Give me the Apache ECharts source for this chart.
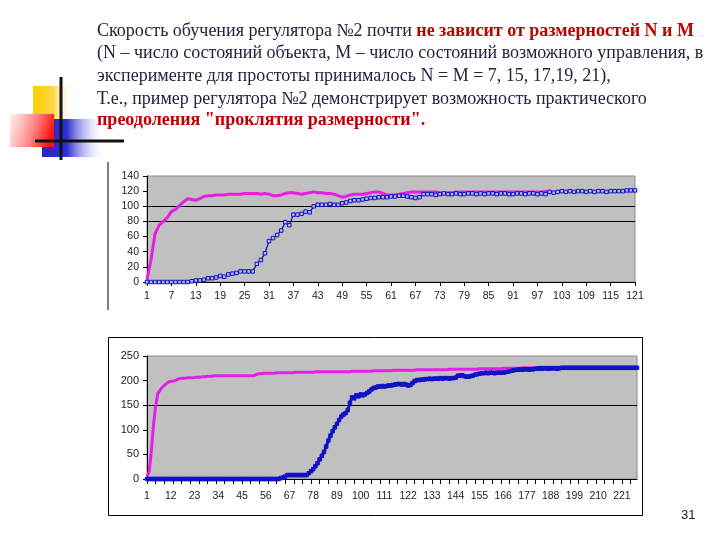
<!DOCTYPE html>
<html>
<head>
<meta charset="utf-8">
<script src="https://cdn.jsdelivr.net/npm/echarts@6/dist/echarts.min.js"></script>
<style>html,body{margin:0;padding:0;background:#fff;}#c{width:720px;height:540px;}</style>
</head>
<body>
<div id="c"></div>
<script>
// ---- data chart 1 (121 steps) ----
var blue1 = [0,0,0,0,0,0,0,0,0,0,0,1,
  2,2,3,5,5,6,8,7,10,11,12,14,14,14,14,
  24,29,38,54,58,62,68,79,75,89,89,90,93,92,100,
  102,102,102,103,102,102,104,105,107,108,108,109,110,111,111,
  112,112,112,113,113,114,114,113,112,111,112,116,116,116,115,
  116,117,116,116,117,116,116,117,117,116,117,116,117,117,116,
  117,117,116,116,117,117,116,117,117,116,117,116,119,118,119,
  120,119,120,119,120,120,119,120,119,120,120,119,120,120,120,
  120,121,121,121];
var magenta1 = [3,30,64,75,80,85,93,96,101,106,110,109,
  108,110,113,114,114,115,115,115,116,116,116,116,117,117,117,
  117,116,117,116,114,114,115,117,118,118,117,116,117,118,119,
  118,118,117,117,116,114,112,113,115,116,116,116,117,118,119,
  119,117,115,115,115,116,117,118,119,119,119,119,119,119,119,
  118,117,118,118,119,119,119,119,119,119,119,119,119,119,119,
  119,119,119,119,119,119,119,119,119,119,119,120,118,null,null,
  null,null,null,null,null,null,null,null,null,null,null,null,null,null,null,
  null,null,null,null];
// ---- data chart 2 (228 steps) ----
var blue2 = [0,0,0,0,0,0,0,0,0,0,
  0,0,0,0,0,0,0,0,0,0,
  0,0,0,0,0,0,0,0,0,0,
  0,0,0,0,0,0,0,0,0,0,
  0,0,0,0,0,0,0,0,0,0,
  0,0,0,0,0,0,0,0,0,0,
  0,0,
  2,3,5,8,8,8,8,8,8,8,8,8,8,
  12,16,20,26,32,40,47,55,66,78,88,97,105,112,120,
  127,131,134,140,155,166,164,170,168,172,170,172,175,178,182,
  185,186,188,188,189,188,189,190,190,191,192,193,193,192,193,
  192,190,191,195,199,201,201,202,202,203,203,204,203,204,204,
  204,205,204,205,205,204,205,205,206,210,210,211,209,208,208,
  209,210,212,213,214,215,215,216,215,216,216,215,216,216,216,
  216,217,218,219,220,221,222,222,223,222,223,223,222,223,223,
  224,224,225,224,225,225,224,225,225,225,224,225,226,226,226,
  226,226,226,226,226,226,226,226,226,226,226,226,226,226,226,
  226,226,226,226,226,226,226,226,226,226,226,226,226,226,226,
  226,226,226];
var magenta2 = [6,15,55,110,147,174,180,186,190,194,197,198,199,200,202,
  204,205,205,205,206,206,206,206,207,207,207,208,208,209,209,
  209,210,210,210,210,210,210,210,210,210,210,210,210,210,210,
  210,210,210,210,210,211,213,214,214,215,215,215,215,215,215,
  216,216,216,216,216,216,216,216,216,217,217,217,217,217,217,
  217,217,217,218,218,218,218,218,218,218,218,218,218,218,218,
  218,218,218,218,218,219,219,219,219,219,219,219,219,219,219,
  220,220,220,220,220,220,220,220,220,221,221,221,221,221,221,
  221,221,221,221,221,222,222,222,222,222,222,222,222,222,222,
  222,222,222,222,222,223,223,223,223,223,223,223,223,223,223,
  223,223,223,223,224,224,224,224,224,224,224,224,224,224,224,
  225,225,225,225,225,225,225,225,225,226,226,226,226,226,226,
  226,227,227,227,227,227,227,227,227,227,227,227];
var cats1 = []; for (var i = 1; i <= blue1.length; i++) cats1.push(String(i));
var cats2 = []; for (var j = 1; j <= blue2.length; j++) cats2.push(String(j));
var yTicks1 = {min: 0, max: 140, interval: 20};
var yTicks2 = {min: 0, max: 250, interval: 50};

// ---- texts ----
var line1a = 'Скорость обучения регулятора №2 почти ';
var line1b = 'не зависит от размерностей N и M';
var line2 = '(N – число состояний объекта, M – число состояний возможного управления, в';
var line3 = 'эксперименте для простоты принималось N = M = 7, 15, 17,19, 21),';
var line4 = 'Т.е., пример регулятора №2 демонстрирует возможность практического';
var line5 = 'преодоления "проклятия размерности".';

var BLUE = '#1212c8', MAG = '#e61ee6';
var serif = '"Liberation Serif","DejaVu Serif",serif';
var sans = '"Liberation Sans",Arial,sans-serif';
var FS = 18;

function splitColors(n, on) {
  var a = [];
  for (var k = 0; k < n; k++) a.push(on.indexOf(k) >= 0 ? '#000' : 'rgba(0,0,0,0)');
  return a;
}

var chart = echarts.init(document.getElementById('c'), null, {renderer: 'canvas'});
var txtColor = '#23233f';
var option = {
  backgroundColor: '#fff',
  animation: false,
  grid: [
    {left: 147, top: 176, width: 488, height: 106, show: true, backgroundColor: '#c0c0c0', borderColor: '#8a8a8a', borderWidth: 1},
    {left: 147, top: 356, width: 490, height: 123, show: true, backgroundColor: '#c0c0c0', borderColor: '#8a8a8a', borderWidth: 1}
  ],
  xAxis: [
    {type: 'category', gridIndex: 0, data: cats1, boundaryGap: false,
     axisLine: {lineStyle: {color: '#000', width: 1}},
     axisTick: {interval: 5, length: 4, inside: false, lineStyle: {color: '#000'}},
     axisLabel: {interval: 5, margin: 9, fontSize: 10.5, fontFamily: sans, color: '#222'},
     splitLine: {show: false}},
    {type: 'category', gridIndex: 1, data: cats2, boundaryGap: false,
     axisLine: {lineStyle: {color: '#000', width: 1}},
     axisTick: {interval: 3, length: 5, lineStyle: {color: '#000'}},
     axisLabel: {interval: 10, margin: 12, fontSize: 10.5, fontFamily: sans, color: '#222'},
     splitLine: {show: false}}
  ],
  yAxis: [
    {type: 'value', gridIndex: 0, min: yTicks1.min, max: yTicks1.max, interval: yTicks1.interval,
     axisLine: {show: true, lineStyle: {color: '#000'}},
     axisTick: {show: true, length: 4, lineStyle: {color: '#000'}},
     axisLabel: {margin: 8, fontSize: 10.5, fontFamily: sans, color: '#222'},
     splitLine: {show: true, lineStyle: {width: 1, color: splitColors(8, [4, 5])}}},
    {type: 'value', gridIndex: 1, min: yTicks2.min, max: yTicks2.max, interval: yTicks2.interval,
     axisLine: {show: true, lineStyle: {color: '#000'}},
     axisTick: {show: true, length: 4, lineStyle: {color: '#000'}},
     axisLabel: {margin: 8, fontSize: 11, fontFamily: sans, color: '#222'},
     splitLine: {show: true, lineStyle: {width: 1, color: splitColors(6, [3])}}}
  ],
  series: [
    {type: 'line', xAxisIndex: 0, yAxisIndex: 0, data: magenta1, symbol: 'none', connectNulls: false,
     lineStyle: {color: MAG, width: 3}},
    {type: 'line', xAxisIndex: 0, yAxisIndex: 0, data: blue1, symbol: 'rect', symbolSize: 3.5, showAllSymbol: true,
     itemStyle: {color: '#b8b8e0', borderColor: BLUE, borderWidth: 1},
     lineStyle: {color: BLUE, width: 1.3}},
    {type: 'line', xAxisIndex: 1, yAxisIndex: 1, data: magenta2, symbol: 'none',
     lineStyle: {color: MAG, width: 3}},
    {type: 'line', xAxisIndex: 1, yAxisIndex: 1, data: blue2, symbol: 'rect', symbolSize: 3.5, showAllSymbol: true,
     itemStyle: {color: BLUE, borderColor: BLUE, borderWidth: 1},
     lineStyle: {color: BLUE, width: 3}}
  ],
  graphic: [
    // decoration
    {type: 'rect', shape: {x: 33, y: 86, width: 38, height: 33}, silent: true,
     style: {fill: new echarts.graphic.LinearGradient(0, 0, 1, 0, [
       {offset: 0, color: '#ffcc00'}, {offset: 0.55, color: '#ffd84a'}, {offset: 1, color: 'rgba(255,240,200,0)'}])}},
    {type: 'rect', shape: {x: 42, y: 119, width: 62, height: 38}, silent: true,
     style: {fill: new echarts.graphic.LinearGradient(0, 0, 1, 0, [
       {offset: 0, color: '#2626c8'}, {offset: 0.4, color: '#3030d0'}, {offset: 1, color: 'rgba(230,230,255,0)'}])}},
    {type: 'rect', shape: {x: 10, y: 114, width: 44, height: 33}, silent: true,
     style: {fill: new echarts.graphic.LinearGradient(0, 0, 1, 0.4, [
       {offset: 0, color: 'rgba(255,240,240,0.9)'}, {offset: 0.6, color: '#ff8080'}, {offset: 1, color: '#ff1010'}])}},
    {type: 'line', shape: {x1: 61, y1: 77, x2: 61, y2: 160}, style: {stroke: '#111', lineWidth: 3}},
    {type: 'line', shape: {x1: 35, y1: 141, x2: 124, y2: 141}, style: {stroke: '#111', lineWidth: 3}},
    // frames
    {type: 'line', shape: {x1: 108, y1: 162, x2: 108, y2: 310}, style: {stroke: '#000', lineWidth: 1}},
    {type: 'rect', shape: {x: 108.5, y: 337.5, width: 534, height: 178}, style: {fill: 'none', stroke: '#000', lineWidth: 1}},
    // texts
    {type: 'text', left: 97, top: 22, silent: true,
     style: {text: '{n|' + line1a + '}{r|' + line1b + '}', rich: {
       n: {fontFamily: serif, fontSize: FS, fill: txtColor},
       r: {fontFamily: serif, fontSize: FS, fontWeight: 'bold', fill: '#c00000'}}}},
    {type: 'text', left: 97, top: 44, silent: true,
     style: {text: line2, fontFamily: serif, fontSize: FS, fill: txtColor}},
    {type: 'text', left: 97, top: 67, silent: true,
     style: {text: line3, fontFamily: serif, fontSize: FS, fill: txtColor}},
    {type: 'text', left: 97, top: 90, silent: true,
     style: {text: line4, fontFamily: serif, fontSize: FS, fill: txtColor}},
    {type: 'text', left: 97, top: 111, silent: true,
     style: {text: line5, fontFamily: serif, fontSize: FS, fontWeight: 'bold', fill: '#c00000'}},
    {type: 'text', left: 681, top: 509, silent: true,
     style: {text: '31', fontFamily: sans, fontSize: 13, fill: '#222'}}
  ]
};
chart.setOption(option);
</script>
</body>
</html>
